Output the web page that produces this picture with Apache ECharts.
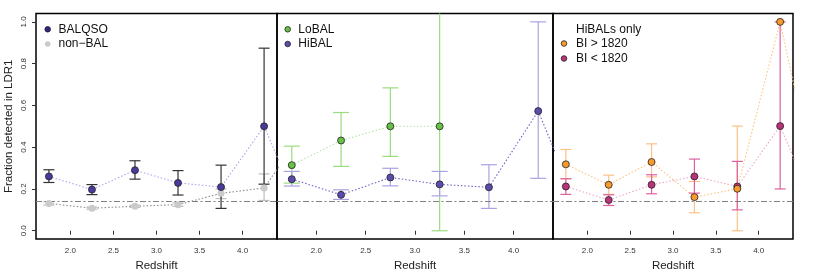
<!DOCTYPE html>
<html><head><meta charset="utf-8">
<script src="https://cdn.jsdelivr.net/npm/echarts@6/dist/echarts.min.js"></script>
<style>html,body{margin:0;padding:0;background:#fff}#c{width:830px;height:277px}</style>
</head><body><div id="c"></div>
<script>
// ---------- data ----------
const redshift = [1.75, 2.25, 2.75, 3.25, 3.75, 4.25];
const extZ = 4.75; // next bin (outside plotted range; only the line toward it is visible)
const xTicks = [2.0, 2.5, 3.0, 3.5, 4.0];
const yTicks = [0.0, 0.2, 0.4, 0.6, 0.8, 1.0];
const refLevel = 0.145;

// panel 1
const balqso   = [0.260, 0.197, 0.290, 0.229, 0.209, 0.500];
const balqsoLo = [0.231, 0.173, 0.247, 0.171, 0.107, 0.223];
const balqsoHi = [0.292, 0.221, 0.335, 0.288, 0.314, 0.874];
const balqsoExt = 0.02;
const nonbal   = [0.131, 0.108, 0.117, 0.125, 0.179, 0.205];
const nonbalLo = [0.123, 0.103, 0.112, 0.117, 0.154, 0.145];
const nonbalHi = [0.139, 0.113, 0.122, 0.133, 0.200, 0.272];
const nonbalExt = 0.5;

// panel 2
const lobalZ   = [1.75, 2.25, 2.75, 3.25];
const lobal    = [0.314, 0.432, 0.500, 0.500];
const lobalLo  = [0.228, 0.308, 0.356, 0.000];
const lobalHi  = [0.405, 0.566, 0.684, 1.150];
const hibal    = [0.247, 0.172, 0.255, 0.222, 0.208, 0.573];
const hibalLo  = [0.214, 0.150, 0.215, 0.167, 0.107, 0.251];
const hibalHi  = [0.284, 0.196, 0.299, 0.284, 0.316, 1.000];
const hibalExt = 0.0;

// panel 3
const biHigh   = [0.318, 0.220, 0.329, 0.161, 0.201, 1.000];
const biHighLo = [0.249, 0.174, 0.258, 0.086, 0.000, 1.000];
const biHighHi = [0.389, 0.266, 0.416, 0.236, 0.501, 1.000];
const biHighExt = 0.05;
const biLow    = [0.212, 0.147, 0.220, 0.260, 0.212, 0.501];
const biLowLo  = [0.174, 0.121, 0.177, 0.180, 0.100, 0.200];
const biLowHi  = [0.249, 0.172, 0.268, 0.343, 0.332, 1.000];
const biLowExt = 0.02;

// ---------- helpers ----------
const FONT = '"Liberation Sans", Arial, Helvetica, sans-serif';
const zip = (xs, ys) => xs.map((x, i) => [x, ys[i]]);
const zip3 = (xs, a, b) => xs.map((x, i) => [x, a[i], b[i]]);

function errSeries(gi, xs, lo, hi, color, capHalf, z) {
  return {
    type: 'custom', xAxisIndex: gi, yAxisIndex: gi, z: z || 3, silent: true,
    data: zip3(xs, lo, hi),
    renderItem: function (params, api) {
      const x = api.value(0), l = api.value(1), h = api.value(2);
      if (h - l < 1e-9) return null;
      const cs = params.coordSys;
      const top = cs.y, bot = cs.y + cs.height;
      const pL = api.coord([x, l]), pH = api.coord([x, h]);
      const yH = Math.max(pH[1], top), yL = Math.min(pL[1], bot);
      const st = { stroke: color, lineWidth: 1.2 };
      const ch = [{ type: 'line', shape: { x1: pL[0], y1: yL, x2: pL[0], y2: yH }, style: st }];
      if (pH[1] >= top) ch.push({ type: 'line', shape: { x1: pH[0] - capHalf, y1: pH[1], x2: pH[0] + capHalf, y2: pH[1] }, style: st });
      if (pL[1] <= bot) ch.push({ type: 'line', shape: { x1: pL[0] - capHalf, y1: pL[1], x2: pL[0] + capHalf, y2: pL[1] }, style: st });
      return { type: 'group', children: ch };
    }
  };
}
function lineSeries(gi, xs, ys, ext, color) {
  const d = zip(xs, ys);
  if (ext !== null) d.push([extZ, ext]);
  return {
    type: 'line', xAxisIndex: gi, yAxisIndex: gi, z: 2, silent: true, clip: true,
    showSymbol: false, symbol: 'none', data: d,
    lineStyle: { color: color, width: 1.1, type: [1.5, 2] }
  };
}
function pointSeries(gi, xs, ys, fill, border) {
  return {
    type: 'scatter', xAxisIndex: gi, yAxisIndex: gi, z: 5, silent: true,
    symbol: 'circle', symbolSize: 7, data: zip(xs, ys),
    itemStyle: { color: fill, borderColor: border, borderWidth: border ? 0.8 : 0, opacity: 1 }
  };
}
function refSeries(gi) {
  return {
    type: 'line', xAxisIndex: gi, yAxisIndex: gi, data: [], z: 1, silent: true,
    markLine: {
      silent: true, symbol: 'none', label: { show: false },
      lineStyle: { color: '#808080', width: 1.2, type: [6, 2.5, 2, 2.5] },
      data: [{ yAxis: refLevel }]
    }
  };
}

const gridTop = 13.5, gridH = 226.5;
const grids = [
  { left: 36, top: gridTop, width: 241, height: gridH },
  { left: 277, top: gridTop, width: 276, height: gridH },
  { left: 553, top: gridTop, width: 240, height: gridH }
].map(g => Object.assign(g, { show: true, borderColor: '#000', borderWidth: 1.5, backgroundColor: 'transparent', containLabel: false }));

const xAxes = [0, 1, 2].map(i => ({
  gridIndex: i, type: 'value', min: 1.6, max: 4.4,
  splitLine: { show: false },
  axisLine: { show: false },
  axisTick: { show: true, customValues: xTicks, length: 4, lineStyle: { color: '#333', width: 1 } },
  axisLabel: { customValues: xTicks, formatter: v => v.toFixed(1), fontSize: 8, color: '#333', margin: 8, fontFamily: FONT },
  name: 'Redshift', nameLocation: 'middle', nameGap: 20,
  nameTextStyle: { fontSize: 11.5, color: '#222', fontFamily: FONT }
}));
const yAxes = [0, 1, 2].map(i => ({
  gridIndex: i, type: 'value', min: -0.04, max: 1.04,
  splitLine: { show: false },
  axisLine: { show: false },
  axisTick: { show: i === 0, customValues: yTicks, length: 4, lineStyle: { color: '#333', width: 1 } },
  axisLabel: { show: i === 0, customValues: yTicks, formatter: v => v.toFixed(1), fontSize: 8, color: '#333', margin: 8, rotate: 90, fontFamily: FONT },
  name: i === 0 ? 'Fraction detected in LDR1' : '', nameLocation: 'middle', nameGap: 21,
  nameTextStyle: { fontSize: 11.5, color: '#222', fontFamily: FONT }
}));

const C = {
  bal: '#4a3a9c', balLine: '#a9a6ee', balErr: '#333333',
  non: '#cacaca', nonLine: '#8c8c8c', nonErr: '#bdbdbd',
  lo: '#66c244', loLine: '#b5e3a4', loErr: '#9bdc7e',
  hi: '#5b4bad', hiLine: '#6e62c8', hiErr: '#aaa2e0',
  bh: '#f99a2c', bhLine: '#fdc27e', bhErr: '#fcc187',
  bl: '#b8337a', blLine: '#eea6cc', blErr: '#dd5fa0'
};

const series = [
  refSeries(0), refSeries(1), refSeries(2),
  // panel 1
  lineSeries(0, redshift, nonbal, nonbalExt, C.nonLine),
  lineSeries(0, redshift, balqso, balqsoExt, C.balLine),
  errSeries(0, redshift, nonbalLo, nonbalHi, C.nonErr, 5.5),
  errSeries(0, redshift, balqsoLo, balqsoHi, C.balErr, 5.5),
  pointSeries(0, redshift, nonbal, C.non, null),
  pointSeries(0, redshift, balqso, C.bal, '#222'),
  // panel 2
  lineSeries(1, lobalZ, lobal, null, C.loLine),
  lineSeries(1, redshift, hibal, hibalExt, C.hiLine),
  errSeries(1, lobalZ, lobalLo, lobalHi, C.loErr, 8),
  errSeries(1, redshift, hibalLo, hibalHi, C.hiErr, 8),
  pointSeries(1, lobalZ, lobal, C.lo, '#222'),
  pointSeries(1, redshift, hibal, C.hi, '#222'),
  // panel 3
  lineSeries(2, redshift, biHigh, biHighExt, C.bhLine),
  lineSeries(2, redshift, biLow, biLowExt, C.blLine),
  errSeries(2, redshift, biHighLo, biHighHi, C.bhErr, 5.5),
  errSeries(2, redshift, biLowLo, biLowHi, C.blErr, 5.5),
  pointSeries(2, redshift, biLow, C.bl, '#222'),
  pointSeries(2, redshift, biHigh, C.bh, '#222')
];

// legends
function legDot(x, y, fill, border) {
  return { type: 'circle', shape: { cx: x, cy: y, r: 2.8 }, style: { fill: fill, stroke: border || null, lineWidth: border ? 0.8 : 0 }, z: 10 };
}
function legText(x, y, t) {
  return { type: 'text', x: x, y: y, style: { text: t, fill: '#111', font: '12px ' + FONT, textVerticalAlign: 'middle', verticalAlign: 'middle' }, z: 10 };
}
const graphic = [
  legDot(47.7, 29.3, '#2e2386', '#222'), legText(58.5, 29.3, 'BALQSO'),
  legDot(47.7, 44, C.non, null), legText(58.5, 44, 'non\u2212BAL'),
  legDot(287.7, 29.3, C.lo, '#222'), legText(298.3, 29.3, 'LoBAL'),
  legDot(287.7, 44, C.hi, '#222'), legText(298.3, 44, 'HiBAL'),
  legText(576, 29.5, 'HiBALs only'),
  legDot(564, 43.5, C.bh, '#222'), legText(576, 43.5, 'BI > 1820'),
  legDot(564, 58.5, C.bl, '#222'), legText(576, 58.5, 'BI < 1820')
];

const chart = echarts.init(document.getElementById('c'), null, { renderer: 'canvas' });
chart.setOption({
  animation: false,
  backgroundColor: '#fff',
  textStyle: { fontFamily: FONT },
  grid: grids, xAxis: xAxes, yAxis: yAxes,
  series: series, graphic: graphic
});
</script></body></html>
